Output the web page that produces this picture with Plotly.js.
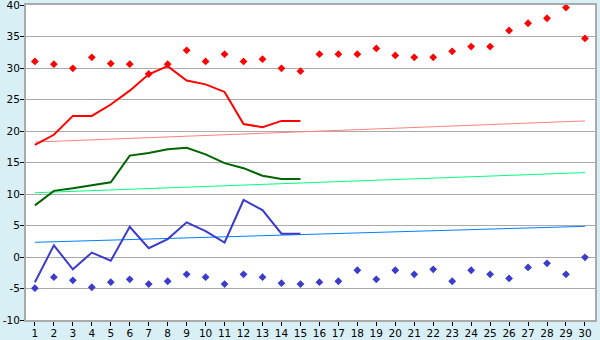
<!DOCTYPE html>
<html><head><meta charset="utf-8">
<script src="https://cdn.plot.ly/plotly-3.0.1.min.js"></script>
<style>html,body{margin:0;padding:0;background:#d9eff6;}#chart{width:600px;height:340px;}</style>
</head><body><div id="chart"></div>
<script>
const days = Array.from({length:30},(_,i)=>i+1);
const daysObs = days.slice(0,15);
const redLine = [17.8,19.4,22.4,22.4,24.2,26.4,29.0,30.3,28.0,27.4,26.2,21.1,20.6,21.6,21.6];
const greenLine = [8.2,10.5,10.9,11.4,11.85,16.1,16.5,17.1,17.35,16.3,14.9,14.1,12.9,12.4,12.4];
const blueLine = [-4.0,1.85,-1.95,0.7,-0.6,4.8,1.4,2.85,5.5,4.1,2.3,9.05,7.45,3.7,3.7];
const redPts = [31.05,30.6,29.95,31.7,30.7,30.6,29.05,30.6,32.8,31.05,32.2,31.05,31.4,29.95,29.5,32.2,32.2,32.2,33.1,32.0,31.7,31.7,32.65,33.4,33.4,35.95,37.1,37.9,39.6,34.7];
const bluePts = [-4.95,-3.2,-3.7,-4.8,-4.0,-3.55,-4.3,-3.85,-2.75,-3.2,-4.3,-2.75,-3.2,-4.15,-4.3,-4.0,-3.85,-2.1,-3.55,-2.1,-2.75,-1.95,-3.85,-2.1,-2.75,-3.4,-1.65,-1.0,-2.75,-0.05];
const trendX = [1,30];
const redTrend = [18.25,21.6];
const greenTrend = [10.2,13.4];
const blueTrend = [2.33,4.87];
const yTicks = [-10,-5,0,5,10,15,20,25,30,35,40];
const yTickText = yTicks.map(String);

const traces = [
 {x:trendX,y:redTrend,mode:'lines',line:{color:'#ff8080',width:1}},
 {x:trendX,y:greenTrend,mode:'lines',line:{color:'#00ff80',width:1}},
 {x:trendX,y:blueTrend,mode:'lines',line:{color:'#0080ff',width:1}},
 {x:daysObs,y:redLine,mode:'lines',line:{color:'#ff0000',width:2}},
 {x:daysObs,y:greenLine,mode:'lines',line:{color:'#006400',width:2}},
 {x:daysObs,y:blueLine,mode:'lines',line:{color:'#3b3bcc',width:2}},
 {x:days,y:redPts,mode:'markers',marker:{symbol:'diamond',size:6,color:'#ff0000'}},
 {x:days,y:bluePts,mode:'markers',marker:{symbol:'diamond',size:6,color:'#3b3bcc'}}
];
const layout = {
 width:600,height:340,showlegend:false,
 paper_bgcolor:'#d9eff6',plot_bgcolor:'#ffffff',
 margin:{l:26,r:5,t:5,b:20},
 font:{family:'DejaVu Sans, Verdana, sans-serif',size:10.5,color:'#000'},
 xaxis:{range:[0.53,30.53],tickvals:days,ticktext:days.map(String),ticks:'outside',ticklen:4,tickcolor:'#000',ticklabelstandoff:-2,ticklabeloverflow:'allow',
   showgrid:false,zeroline:false,showline:true,linecolor:'#aaaaaa',linewidth:2,mirror:true,fixedrange:true},
 yaxis:{range:[-10,40],tickvals:yTicks,ticktext:yTickText,ticks:'outside',ticklen:4,tickcolor:'#000',ticklabelstandoff:-2,ticklabeloverflow:'allow',
   showgrid:true,gridcolor:'#aaaaaa',gridwidth:1,zeroline:false,showline:true,linecolor:'#aaaaaa',linewidth:2,mirror:true,fixedrange:true}
};
Plotly.newPlot('chart',traces,layout,{staticPlot:true,displayModeBar:false});
</script></body></html>
